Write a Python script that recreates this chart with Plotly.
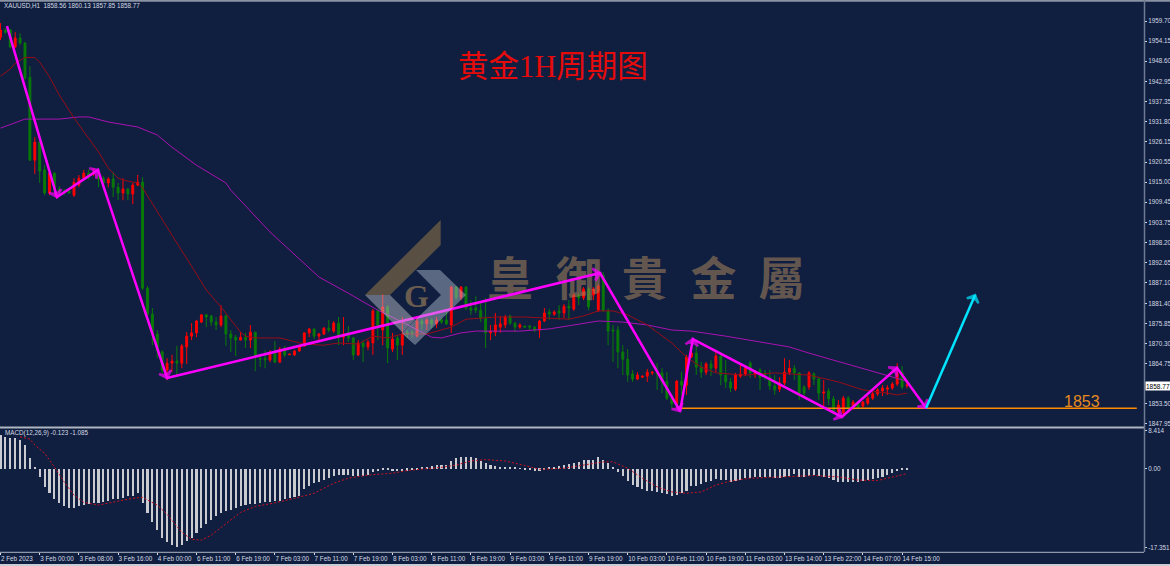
import plotly.graph_objects as go

BG = "#101F40"
W, H = 1170, 566

# ---- candles (price values)
direction = ("RGGRGGGRGG" "RGGGGRRRGR" "GGRGGRGRRG" "GGGGRRGRRR" "RRGGGRGGGR" "GRGGGRGRGR"
             "RRRRGRRGRG" "RGGRGRRGRG" "RGRGGRGRGR" "GGRGRGGGGG" "RRRRGGRGGG" "RRGRGRGRGR"
             "GRRGGGGGGG" "RRRRGGGGRG" "RRGGRGRGGG" "RRRGRGGGGR" "RRGGGRGGRG" "GRRGRGRRRR" "RRRRGR")
wick_high = [1959.1,1957.7,1957.5,1956.6,1956.3,1953.9,1947.2,1927.5,1926.4,1919.7,
 1918.9,1917.8,1913.9,1913.1,1912.8,1916.1,1917.0,1918.4,1918.6,1918.9,
 1918.4,1916.7,1916.4,1917.8,1914.8,1916.1,1913.4,1914.8,1917.0,1916.4,
 1886.2,1880.1,1874.0,1868.4,1866.2,1867.1,1869.6,1870.1,1873.4,1875.9,
 1876.8,1878.4,1878.4,1878.2,1877.6,1880.9,1878.2,1874.0,1872.6,1873.4,
 1873.2,1875.4,1873.4,1867.1,1868.4,1868.4,1870.9,1869.3,1869.6,1867.3,
 1868.4,1869.8,1873.4,1874.5,1874.3,1873.2,1874.8,1876.8,1876.5,1877.6,
 1877.6,1875.1,1872.0,1871.2,1871.2,1871.2,1879.8,1879.8,1884.0,1880.9,
 1873.2,1872.6,1877.6,1874.0,1874.0,1877.6,1877.0,1877.3,1877.3,1877.6,
 1877.3,1879.0,1886.2,1886.2,1886.2,1886.2,1882.3,1883.4,1881.5,1882.9,
 1875.4,1878.7,1877.9,1878.2,1878.2,1876.2,1875.9,1875.1,1875.4,1875.1,
 1876.8,1880.1,1879.8,1879.5,1880.9,1881.2,1882.3,1884.2,1884.2,1885.9,
 1885.9,1885.9,1886.7,1890.1,1880.1,1875.4,1875.1,1869.8,1868.7,1862.9,
 1862.3,1861.4,1863.2,1862.6,1864.8,1863.4,1862.3,1856.0,1860.1,1862.3,
 1867.1,1868.4,1869.8,1865.1,1865.1,1865.7,1868.4,1867.9,1865.7,1860.7,
 1862.1,1864.3,1864.3,1865.4,1862.9,1863.4,1862.9,1862.9,1861.5,1860.9,
 1866.2,1865.7,1864.3,1862.3,1858.7,1862.6,1862.3,1860.9,1860.1,1857.9,
 1855.7,1854.6,1855.7,1855.7,1854.6,1854.0,1854.3,1855.7,1856.8,1857.9,
 1858.7,1858.7,1859.6,1864.8,1864.0,1860.13]
body_top = [1957.2,1957.2,1957.2,1955.0,1955.0,1953.6,1944.1,1926.1,1926.1,1918.4,
 1917.5,1917.5,1913.1,1912.5,1912.5,1915.0,1916.1,1917.5,1917.5,1917.8,
 1916.1,1916.1,1915.9,1915.9,1913.6,1913.1,1913.1,1914.2,1915.0,1915.0,
 1885.6,1878.4,1872.9,1867.9,1864.8,1865.4,1865.4,1869.6,1872.3,1873.2,
 1876.5,1878.2,1878.2,1877.9,1876.2,1877.9,1877.9,1872.9,1872.0,1872.0,
 1872.0,1873.4,1873.4,1866.2,1866.2,1867.9,1867.6,1868.7,1869.0,1867.3,
 1868.2,1869.6,1873.2,1874.3,1874.3,1872.9,1874.5,1874.5,1875.9,1875.9,
 1872.9,1873.2,1871.8,1870.4,1870.4,1870.7,1879.3,1879.3,1880.4,1880.4,
 1871.5,1871.8,1872.9,1873.4,1873.4,1876.5,1876.5,1876.8,1876.8,1876.8,
 1876.8,1876.8,1885.9,1885.9,1885.9,1885.9,1880.1,1880.1,1879.5,1877.3,
 1873.7,1875.4,1875.7,1877.6,1877.9,1875.9,1875.4,1875.1,1875.1,1874.8,
 1876.5,1878.7,1879.0,1879.0,1879.3,1880.6,1880.6,1883.7,1883.7,1885.4,
 1885.4,1885.4,1886.2,1889.2,1879.3,1874.0,1874.0,1867.9,1865.9,1861.8,
 1861.5,1861.2,1862.3,1862.3,1862.1,1862.1,1859.8,1855.1,1859.8,1859.8,
 1866.5,1867.6,1867.6,1863.7,1864.6,1864.6,1866.8,1866.8,1861.5,1859.6,
 1861.5,1861.8,1863.4,1864.8,1862.3,1862.9,1862.1,1860.9,1858.5,1859.3,
 1862.3,1863.4,1863.4,1862.1,1858.2,1862.1,1861.8,1860.4,1856.8,1857.1,
 1854.9,1853.2,1855.1,1855.1,1854.0,1853.7,1854.0,1855.1,1856.3,1857.4,
 1857.9,1857.9,1859.0,1862.1,1862.3,1858.77]
body_bot = [1955.2,1956.6,1952.5,1952.5,1953.6,1943.9,1921.1,1921.1,1918.1,1912.0,
 1912.0,1912.8,1912.5,1912.0,1912.0,1911.4,1914.2,1916.1,1916.4,1917.3,
 1915.9,1914.8,1914.8,1913.6,1912.0,1912.0,1911.7,1911.7,1914.2,1885.6,
 1878.4,1872.9,1868.2,1862.9,1862.9,1864.8,1864.8,1864.8,1869.3,1872.3,
 1873.2,1876.2,1877.6,1876.2,1875.4,1875.4,1872.9,1871.8,1871.2,1871.2,
 1871.2,1871.2,1866.5,1865.9,1865.7,1865.7,1865.1,1865.1,1867.1,1867.1,
 1867.1,1868.2,1869.6,1873.2,1872.3,1872.3,1872.9,1874.0,1873.7,1872.0,
 1872.0,1871.8,1867.1,1867.1,1869.3,1869.3,1870.4,1874.8,1874.0,1869.0,
 1868.7,1869.8,1869.8,1872.9,1872.9,1872.3,1875.7,1875.7,1875.7,1875.7,
 1876.2,1875.7,1875.4,1883.1,1883.1,1880.1,1879.5,1879.5,1877.3,1873.2,
 1873.2,1873.4,1874.8,1875.4,1875.9,1874.8,1874.8,1874.8,1874.8,1874.0,
 1874.0,1876.5,1878.4,1878.4,1878.7,1878.7,1880.1,1879.8,1882.9,1882.9,
 1880.4,1883.7,1879.5,1879.5,1873.7,1873.7,1867.9,1865.9,1861.5,1860.4,
 1860.4,1860.9,1861.2,1862.1,1861.8,1859.6,1855.1,1853.5,1853.5,1858.7,
 1858.7,1866.5,1863.7,1862.3,1862.3,1863.4,1863.4,1861.5,1859.6,1857.9,
 1857.6,1861.2,1861.8,1862.1,1861.8,1860.9,1860.9,1858.5,1857.4,1857.6,
 1859.3,1862.3,1862.1,1856.5,1856.5,1858.2,1860.4,1856.5,1856.5,1854.9,
 1851.3,1851.3,1851.0,1852.4,1852.4,1852.4,1852.9,1853.7,1855.1,1856.3,
 1857.1,1857.6,1857.9,1859.0,1858.2,1858.56]
wick_low = [1954.4,1956.1,1952.2,1952.2,1953.0,1943.3,1920.9,1917.3,1914.8,1911.4,
 1911.4,1911.4,1911.2,1911.4,1911.7,1910.9,1913.6,1915.6,1915.6,1916.7,
 1913.6,1913.9,1913.6,1910.9,1910.0,1910.0,1910.0,1908.9,1913.9,1885.1,
 1876.8,1869.8,1866.2,1862.1,1860.1,1862.3,1861.2,1863.4,1864.6,1871.2,
 1872.0,1875.9,1874.8,1875.1,1874.0,1874.8,1869.6,1867.9,1866.8,1871.2,
 1869.0,1869.0,1862.6,1863.7,1863.4,1865.1,1864.8,1864.8,1866.5,1867.1,
 1866.8,1867.9,1869.3,1872.0,1871.5,1870.7,1872.6,1873.4,1873.2,1869.8,
 1869.8,1870.7,1865.7,1866.8,1865.1,1868.4,1867.1,1871.2,1869.8,1864.8,
 1867.9,1865.7,1867.1,1871.8,1871.8,1872.0,1874.0,1874.0,1874.5,1874.5,
 1875.7,1875.4,1873.2,1882.3,1882.3,1879.5,1878.2,1878.7,1876.2,1869.0,
 1871.2,1872.3,1873.2,1874.5,1875.4,1873.4,1874.3,1874.8,1874.0,1873.4,
 1871.8,1876.2,1876.8,1877.9,1876.8,1877.3,1876.8,1879.3,1880.9,1882.3,
 1879.5,1882.3,1879.0,1879.0,1869.8,1865.1,1863.4,1861.5,1859.6,1859.6,
 1860.1,1860.7,1859.6,1861.5,1857.4,1856.5,1854.6,1852.4,1853.2,1856.0,
 1856.0,1866.2,1861.5,1860.7,1861.5,1861.2,1862.3,1858.7,1857.9,1856.8,
 1857.1,1860.7,1861.2,1860.7,1860.7,1857.4,1860.1,1857.4,1856.0,1856.8,
 1858.7,1861.5,1860.1,1854.6,1855.4,1857.4,1858.7,1854.6,1852.6,1853.2,
 1850.7,1850.4,1850.1,1851.3,1851.8,1852.1,1852.4,1853.2,1854.6,1855.7,
 1855.7,1856.0,1857.4,1858.5,1857.6,1857.85]

# ---- moving averages
ma_red_x = [0,2,3,5,7,8,10,12,15,18,20,22,24,26,28,29,32,35,39,42,45,49,50,52,57,60,62,66,69,73,76,79,82,87,92,95,101,107,112,116,119,122,125,128,132,137,140,143,146,152,158,165,171,176,181,183,185]
ma_red_y = [1944.4,1946.4,1948.0,1949.6,1949.6,1948.3,1944.2,1939.2,1932.8,1927.2,1923.4,1918.9,1916.1,1915.3,1914.8,1913.4,1906.7,1900.3,1891.7,1885.1,1880.4,1873.4,1872.3,1871.8,1871.8,1870.7,1870.1,1869.8,1870.4,1870.1,1872.3,1871.8,1872.9,1872.9,1874.8,1877.0,1877.6,1877.6,1877.3,1877.0,1877.9,1879.3,1879.3,1878.2,1875.4,1870.4,1866.5,1863.7,1862.1,1861.5,1862.1,1861.5,1859.6,1857.4,1856.5,1856.0,1856.5]
ma_purple_x = [0,5,12,16,18,22,28,32,35,40,46,47,55,65,71,77,82,88,90,94,97,106,112,117,122,127,132,137,141,148,155,161,165,172,179,185]
ma_purple_y = [1930.0,1932.5,1932.5,1933.1,1933.1,1931.7,1930.3,1928.1,1924.7,1919.7,1914.8,1912.8,1901.2,1888.7,1884.2,1879.5,1876.2,1872.0,1871.8,1873.2,1873.7,1873.7,1874.3,1875.4,1876.5,1876.2,1875.4,1874.0,1873.7,1872.3,1870.7,1869.3,1867.6,1864.8,1862.1,1859.8]

# ---- hand-drawn analysis lines
zig_x = [1.33,11.53,19.9,34.0,122.35,138.7,141.3,171.7,182.96,188.9]
zig_y = [1958.3,1910.9,1918.4,1860.7,1889.8,1851.5,1871.5,1849.9,1863.5,1852.4]
cyan_x = [188.9,198.9]
cyan_y = [1852.4,1883.7]
support_x = [138.7,231.9]
support_y = [1852.3,1852.3]

# ---- MACD
macd_hist = [7.5,7.0,6.8,6.7,6.3,5.2,2.3,0.3,-1.8,-4.1,
 -5.4,-6.7,-7.6,-8.2,-8.6,-8.6,-8.3,-8.0,-7.8,-7.6,
 -7.6,-7.4,-7.1,-6.7,-6.6,-6.4,-6.1,-5.9,-5.3,-7.5,
 -9.7,-11.6,-13.5,-15.3,-16.2,-16.8,-17.1,-16.8,-15.8,-15.3,
 -14.2,-13.0,-12.1,-11.3,-10.5,-9.7,-9.3,-9.1,-8.6,-8.2,
 -8.0,-7.8,-7.8,-7.5,-7.4,-7.3,-7.2,-7.0,-6.7,-6.4,
 -6.2,-5.9,-4.5,-3.7,-3.2,-2.9,-2.5,-2.0,-1.6,-1.4,
 -1.4,-1.4,-1.5,-1.6,-1.6,-1.4,-0.7,-0.5,-0.3,-0.15,
 -0.5,-0.5,-0.5,-0.4,-0.3,-0.1,0.2,0.4,0.7,0.8,
 0.8,0.8,1.8,2.3,2.6,2.6,2.5,2.3,1.8,1.3,
 0.8,0.6,0.4,0.4,0.4,0.2,0.1,-0.15,-0.3,-0.4,
 -0.4,-0.1,0.2,0.4,0.6,0.8,1.0,1.3,1.5,1.9,
 1.9,1.9,2.5,2.0,1.3,0.4,-0.7,-1.5,-2.6,-3.6,
 -4.1,-4.5,-4.8,-4.9,-5.2,-5.3,-5.6,-6.1,-5.8,-5.4,
 -4.9,-3.9,-3.7,-3.4,-3.0,-2.6,-2.3,-2.5,-2.5,-2.9,
 -2.7,-2.5,-2.1,-2.1,-1.8,-1.8,-1.8,-1.9,-2.0,-2.0,
 -1.8,-1.6,-1.2,-1.8,-1.8,-1.5,-1.4,-1.6,-1.8,-2.0,
 -2.5,-2.9,-2.9,-3.0,-2.9,-2.9,-2.6,-2.5,-2.3,-2.0,
 -1.8,-1.4,-0.9,-0.5,-0.3,-0.123]
signal_x = [4,6,7,9,11,13,15,17,20,23,27,29,32,34,37,39,41,43,46,49,52,56,60,64,68,71,75,80,83,86,90,93,96,99,103,107,110,115,119,123,125,128,131,134,137,140,143,146,149,153,157,166,171,175,179,182,185]
signal_y = [7.0,6.5,5.2,3.4,0.4,-2.9,-5.8,-7.4,-8.0,-7.4,-6.5,-6.3,-8.0,-10.0,-14.0,-15.5,-15.7,-14.6,-12.0,-9.6,-8.3,-7.5,-6.5,-5.4,-3.2,-2.1,-1.4,-1.0,-0.4,-0.15,0.3,0.8,1.7,2.0,1.7,0.7,-0.15,0.1,0.8,1.5,1.5,0.1,-2.1,-4.0,-5.1,-5.4,-5.1,-3.6,-2.7,-2.1,-1.9,-1.5,-1.8,-2.5,-2.6,-1.9,-1.085]

# ---- axes
price_ticks = [1959.70,1954.15,1948.60,1942.95,1937.35,1931.80,1926.15,1920.55,1915.00,1909.45,1903.75,1898.20,1892.65,1887.10,1881.40,1875.85,1870.30,1864.75,1853.50,1847.95]
price_labels = ["1959.70","1954.15","1948.60","1942.95","1937.35","1931.80","1926.15","1920.55","1915.00","1909.45","1903.75","1898.20","1892.65","1887.10","1881.40","1875.85","1870.30","1864.75","1853.50","1847.95"]
macd_ticks = [8.414,0.0,-17.351]
macd_labels = ["8.414","0.00","-17.351"]
time_ticks = list(range(0,185,8))
time_labels = ["2 Feb 2023","3 Feb 00:00","3 Feb 08:00","3 Feb 16:00","4 Feb 00:00","6 Feb 11:00","6 Feb 19:00","7 Feb 03:00","7 Feb 11:00","7 Feb 19:00","8 Feb 03:00","8 Feb 11:00","8 Feb 19:00","9 Feb 03:00","9 Feb 11:00","9 Feb 19:00","10 Feb 03:00","10 Feb 11:00","10 Feb 19:00","11 Feb 03:00","13 Feb 14:00","13 Feb 22:00","14 Feb 07:00","14 Feb 15:00"]
wm_chars = ["皇","御","貴","金","屬"]
wm_x = [104,118,131.5,145.5,159.4]
wm_y = [1886.9]*5

n = len(direction)
xs = list(range(n))
opens = [b if d == "R" else t for d, t, b in zip(direction, body_top, body_bot)]
closes = [t if d == "R" else b for d, t, b in zip(direction, body_top, body_bot)]

TICKC = "#D5DAE3"
FT = dict(family="Liberation Sans, Arial", size=6.3, color=TICKC)

fig = go.Figure()
fig.add_trace(go.Candlestick(x=xs, open=opens, high=wick_high, low=wick_low, close=closes,
    increasing=dict(line=dict(color="#FF0000", width=1), fillcolor="#FF0000"),
    decreasing=dict(line=dict(color="#087A08", width=1), fillcolor="#087A08"),
    whiskerwidth=0, xaxis="x", yaxis="y", hoverinfo="skip"))
fig.add_trace(go.Scatter(x=wm_x, y=wm_y, mode="text", text=wm_chars,
    textfont=dict(family="Noto Sans CJK TC", size=46, weight=700, color="rgba(172,136,91,0.55)"),
    textposition="middle center", hoverinfo="skip"))
fig.add_trace(go.Scatter(x=ma_purple_x, y=ma_purple_y, mode="lines", line=dict(color="#A812B0", width=1), hoverinfo="skip"))
fig.add_trace(go.Scatter(x=ma_red_x, y=ma_red_y, mode="lines", line=dict(color="#960C18", width=1), hoverinfo="skip"))
fig.add_trace(go.Scatter(x=support_x, y=support_y, mode="lines", line=dict(color="#FF8C00", width=1.5), hoverinfo="skip"))
fig.add_trace(go.Scatter(x=zig_x, y=zig_y, mode="lines+markers", line=dict(color="#FF00FF", width=2.5),
    marker=dict(symbol="arrow-wide-open", angleref="previous", size=[0]+[9]*(len(zig_x)-1), color="#FF00FF",
                line=dict(color="#FF00FF", width=2.5)), hoverinfo="skip"))
fig.add_trace(go.Scatter(x=cyan_x, y=cyan_y, mode="lines+markers", line=dict(color="#00E5FF", width=2.5),
    marker=dict(symbol="arrow-wide-open", angleref="previous", size=[0,9], color="#00E5FF",
                line=dict(color="#00E5FF", width=2.5)), hoverinfo="skip"))
fig.add_trace(go.Bar(x=xs, y=macd_hist, width=0.42, marker=dict(color="#C9CBD0", line=dict(width=0)),
    xaxis="x2", yaxis="y2", hoverinfo="skip"))
fig.add_trace(go.Scatter(x=signal_x, y=signal_y, mode="lines", line=dict(color="#D01020", width=1, dash="2px,2px"),
    xaxis="x2", yaxis="y2", hoverinfo="skip"))

def px(x): return x / W
def py(y): return 1 - y / H
def poly(pts, fill):
    path = "M " + " L ".join(f"{px(a):.5f},{py(b):.5f}" for a, b in pts) + " Z"
    return dict(type="path", xref="paper", yref="paper", path=path, fillcolor=fill, line=dict(width=0), layer="above")
def rule(x0, y0, x1, y1, col, w):
    return dict(type="line", xref="paper", yref="paper", x0=px(x0), y0=py(y0), x1=px(x1), y1=py(y1), line=dict(color=col, width=w), layer="above")
def label(x, y, text, font, xanchor="center", **kw):
    # positioned relative to the price pane so that no label pushes the page margins
    return dict(xref="x domain", yref="y domain", x=x / 1144, y=(427 - y) / 424, xanchor=xanchor, yanchor="middle",
                text=text, showarrow=False, font=font, **kw)

shapes = [
    poly([(365,295),(440.7,220),(440.7,245),(390,295)], "rgba(150,120,70,0.55)"),
    poly([(365,295),(390,295),(415,320),(402,333),(415,345)], "rgba(200,200,205,0.45)"),
    poly([(416,270),(440,270),(466,295),(415,345),(402,333),(441,295)], "rgba(195,205,220,0.42)"),
    rule(0, 0.8, W, 0.8, "#8A93A3", 2),
    rule(0, 427.5, 1144, 427.5, "#AEB6C2", 2),
    rule(1144.5, 0, 1144.5, 552, "#6D7A92", 1.5),
    rule(0, 552.3, 1144, 552.3, "#AEB6C2", 1),
    rule(0, 565, W, 565, "#C8CDD5", 2),
]

anns = [
    label(553, 67, "黄金1H周期图", dict(family="Liberation Serif, Noto Sans CJK SC", size=30.5, color="#E60B0B")),
    label(416, 296, "<b>G</b>", dict(family="Liberation Serif", size=32, color="#6A5C4E")),
    label(1082, 401, "1853", dict(family="Liberation Sans", size=16, color="#E58A1F")),
    label(2, 5, "XAUUSD,H1  1858.56 1860.13 1857.85 1858.77", FT, xanchor="left"),
    label(3, 433, "MACD(12,26,9) -0.123 -1.085", FT, xanchor="left"),
    label(1145, 385.5, "1858.77", dict(family="Liberation Sans", size=6.5, color="#000000"), xanchor="left",
          bgcolor="#FFFFFF", borderpad=0, width=25, height=8, align="left"),
]

x_range = [-0.1, 233.37]
fig.update_layout(
    width=W, height=H, margin=dict(l=0, r=0, t=0, b=0), autosize=False,
    paper_bgcolor=BG, plot_bgcolor=BG, showlegend=False, boxgap=0.45, bargap=0,
    shapes=shapes, annotations=anns,
    xaxis=dict(domain=[0, 1144/W], range=x_range, showgrid=False, zeroline=False, showticklabels=False, ticks="", automargin=False,
               rangeslider=dict(visible=False), anchor="y", showline=False),
    yaxis=dict(domain=[1-427/H, 1-3/H], range=[1847.1, 1964.7], side="right", anchor="x", showgrid=False, zeroline=False, automargin=False,
               tickmode="array", tickvals=price_ticks, ticktext=price_labels, ticks="outside", ticklen=2, tickcolor=TICKC, tickfont=FT, showline=False),
    xaxis2=dict(domain=[0, 1144/W], range=x_range, showgrid=False, zeroline=False, anchor="y2", showline=False, automargin=False,
                tickmode="array", tickvals=time_ticks, ticktext=time_labels, ticks="outside", ticklen=2, tickcolor=TICKC, tickfont=FT,
                ticklabelposition="outside right", tickangle=0),
    yaxis2=dict(domain=[1-552/H, 1-430/H], range=[-18.3, 8.5], side="right", anchor="x2", showgrid=False, zeroline=False, automargin=False,
                tickmode="array", tickvals=macd_ticks, ticktext=macd_labels, ticks="outside", ticklen=2, tickcolor=TICKC, tickfont=FT, showline=False),
)

fig.write_html("out.html", config=dict(displayModeBar=False),
               post_script="document.body.style.margin='0';document.body.style.background='#101F40';")
